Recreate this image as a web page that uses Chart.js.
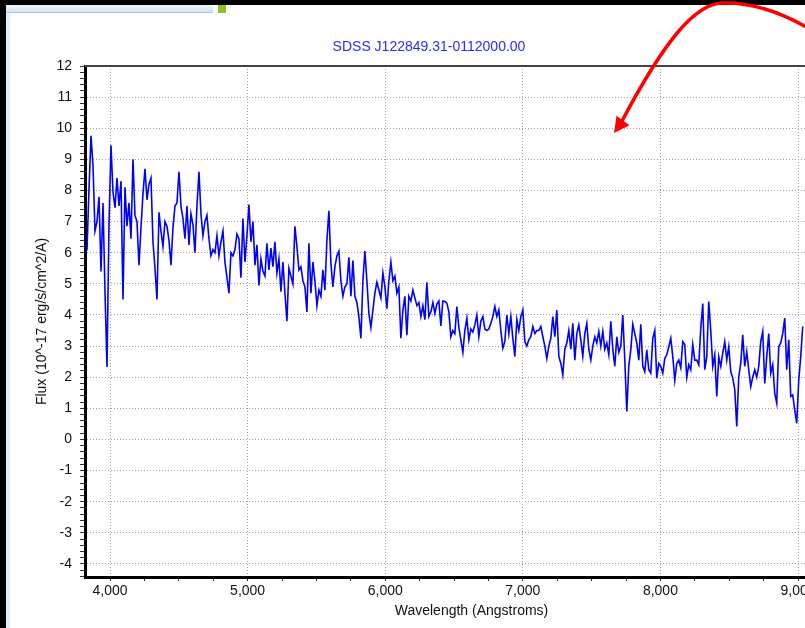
<!DOCTYPE html>
<html>
<head>
<meta charset="utf-8">
<script src="https://cdn.jsdelivr.net/npm/chart.js@4.4.1/dist/chart.umd.min.js"></script>
<style>
  html, body { margin: 0; padding: 0; background: #fff; }
  #frame { position: relative; width: 805px; height: 628px; overflow: hidden; background: #fff; }
  #plot { position: absolute; left: 0; top: 0; }
  .chrome { position: absolute; }
</style>
</head>
<body>
<div id="frame">
  <canvas id="plot" width="858" height="628"></canvas>
  <!-- window chrome around the screenshot -->
  <div class="chrome" style="left:0;top:0;width:805px;height:5px;background:#000"></div>
  <div class="chrome" style="left:0;top:0;width:6px;height:628px;background:#000"></div>
  <div class="chrome" style="left:6px;top:5px;width:4px;height:623px;background:#e2eefa"></div>
  <div class="chrome" style="left:6px;top:5px;width:207px;height:7px;background:linear-gradient(#eef5fc,#d3e5f6);border-bottom:1px solid #a9c6e4"></div>
  <div class="chrome" style="left:218px;top:5px;width:8px;height:8px;background:#8fc31f"></div>
  <svg class="chrome" style="left:0;top:0" width="805" height="628" viewBox="0 0 805 628">
    <path d="M 808 28 C 780 12, 750 2, 722 3 C 695 4, 665 40, 622 121" stroke="#ff0000" stroke-width="3.5" fill="none"/>
    <polygon points="614,133 616.5,115.8 629.5,125.2" fill="#ff0000"/>
  </svg>
</div>
<script>
const titleText = 'SDSS J122849.31-0112000.00';
const xTitle = 'Wavelength (Angstroms)';
const yTitle = 'Flux (10^-17 erg/s/cm^2/A)';

// axis ranges (Angstroms / flux units)
const xMin = 3818, xMax = 9436;
const yMin = -4.42, yMax = 12;

// spectrum sampled on a regular wavelength grid
const waveStart = 3818, waveStep = 14.53;

// flux, ~3818-5126 A
const fluxA = [6.0, 6.1, 8.05, 9.76, 8.8, 6.7, 7.0, 7.8, 5.4, 7.6,
  4.75, 2.33, 6.9, 9.45, 7.95, 7.45, 8.4, 7.5, 8.3, 4.5,
  8.1, 6.85, 7.6, 6.45, 9.0, 7.2, 7.0, 5.6, 6.8, 7.9,
  8.7, 7.7, 8.2, 8.4, 6.35, 5.5, 4.5, 7.3, 6.7, 6.2,
  7.0, 6.85, 6.4, 5.6, 6.8, 7.5, 7.6, 8.6, 7.5, 7.1,
  6.45, 7.5, 6.25, 7.25, 6.9, 6.0, 7.5, 8.6, 7.25, 6.55,
  7.0, 7.2, 6.45, 5.9, 6.1, 6.0, 6.55, 5.9, 6.35, 6.7,
  5.7, 5.2, 4.7, 6.0, 5.9, 6.1, 6.6, 6.45, 5.2, 7.1,
  5.7, 6.55, 7.55, 6.35, 7.0, 5.6, 6.25, 4.95, 5.8, 5.4];
// ~5126-6434 A
const fluxB = [5.25, 6.3, 5.45, 6.15, 5.55, 6.35, 5.35, 5.8, 4.75, 5.7,
  4.7, 3.8, 5.5, 5.25, 5.0, 6.85, 6.2, 5.45, 5.55, 5.1,
  4.9, 4.1, 6.3, 4.7, 5.7, 5.1, 4.3, 4.8, 4.6, 5.45,
  4.8, 6.4, 7.35, 5.65, 4.9, 5.55, 5.9, 6.05, 5.1, 4.6,
  4.9, 5.0, 5.85, 4.6, 5.75, 4.6, 4.4, 3.95, 3.25, 5.1,
  6.05, 5.1, 4.05, 3.6, 4.15, 4.7, 5.05, 4.8, 4.55, 5.35,
  4.9, 4.2, 5.1, 5.7, 5.1, 5.25, 4.7, 4.9, 3.25, 4.15,
  4.6, 3.35, 4.6, 4.45, 4.8, 4.55, 4.3, 4.4, 3.95, 4.3,
  3.85, 5.05, 3.95, 4.1, 4.4, 4.05, 4.35, 4.45, 3.65, 4.45];
// ~6434-7742 A
const fluxC = [4.43, 4.38, 4.1, 3.3, 3.5, 3.4, 4.27, 3.6, 3.2, 2.8,
  3.5, 3.9, 3.2, 3.55, 3.45, 3.68, 4.0, 3.3, 3.8, 3.95,
  3.55, 3.5, 3.55, 3.73, 3.95, 4.27, 3.95, 4.16, 3.5, 2.93,
  3.15, 4.0, 3.4, 3.95, 3.25, 2.67, 3.85, 3.5, 3.95, 4.16,
  3.15, 3.0, 3.2, 3.3, 3.63, 3.4, 3.5, 3.5, 3.63, 3.3,
  3.0, 2.6, 3.0, 3.25, 3.95, 3.3, 4.16, 2.67, 2.45, 2.07,
  2.9, 3.1, 3.5, 2.9, 3.73, 2.55, 3.4, 3.68, 3.2, 2.67,
  3.4, 3.73, 2.9, 2.55, 3.0, 3.3, 3.1, 3.47, 3.0, 3.47,
  2.9, 3.1, 2.72, 3.8, 2.9, 2.35, 3.3, 2.8, 3.0, 4.0];
// ~7742-9050 A
const fluxD = [2.55, 0.9, 2.35, 2.88, 3.7, 3.4, 3.1, 2.55, 3.7, 2.35,
  2.18, 2.88, 2.24, 2.13, 3.25, 3.5, 1.97, 2.45, 2.35, 2.13,
  2.6, 2.72, 2.98, 3.25, 2.66, 1.9, 2.45, 2.55, 2.3, 3.14,
  3.05, 2.0, 2.4, 2.24, 3.05, 2.55, 2.55, 2.4, 3.57, 4.37,
  2.24, 2.66, 4.43, 3.5, 2.35, 2.72, 1.38, 2.66, 2.35, 2.77,
  3.14, 2.55, 2.98, 2.18, 1.97, 1.6, 0.42, 2.0, 2.45, 3.36,
  2.35, 2.82, 2.24, 1.7, 2.0, 2.24, 2.0, 2.35, 3.14, 3.47,
  1.8, 2.66, 3.4, 2.13, 2.4, 1.49, 1.17, 2.98, 3.1, 3.4,
  3.9, 2.24, 3.2, 1.38, 1.43, 0.95, 0.52, 1.9, 2.66, 3.63];

const flux = [...fluxA, ...fluxB, ...fluxC, ...fluxD];
const wavelength = flux.map((_, i) => waveStart + i * waveStep);

Chart.defaults.font.family = '"Liberation Sans", Arial, sans-serif';

// thin dark line closing the top of the plot box
const frameTop = {
  id: 'frameTop',
  afterDraw(chart) {
    const { ctx, chartArea: a } = chart;
    ctx.save();
    ctx.strokeStyle = '#444';
    ctx.lineWidth = 2;
    ctx.beginPath();
    ctx.moveTo(a.left, a.top);
    ctx.lineTo(a.right, a.top);
    ctx.stroke();
    ctx.restore();
  }
};

const isWhole = (v) => Math.abs(v - Math.round(v)) < 1e-6;

new Chart(document.getElementById('plot'), {
  type: 'line',
  data: {
    datasets: [{
      data: wavelength.map((w, i) => ({ x: w, y: flux[i] })),
      borderColor: '#0000ff', borderWidth: 1.6,
      pointRadius: 0, tension: 0, fill: false
    }]
  },
  options: {
    responsive: false, animation: false,
    layout: { padding: 0 },
    plugins: {
      legend: { display: false },
      tooltip: { enabled: false },
      title: {
        display: true, text: titleText, color: '#2b2bff',
        font: { size: 14, weight: 'normal' },
        padding: { top: 38.6, bottom: 10.6 }
      }
    },
    scales: {
      x: {
        type: 'linear', min: xMin, max: xMax,
        afterFit: (s) => { s.height = 51; },
        border: { color: '#000', width: 3, dash: [1, 2] },
        grid: {
          color: (c) => c.tick && c.tick.value % 1000 === 0 ? '#a0a0a0' : 'transparent',
          tickColor: '#333', tickLength: 4, lineWidth: 1
        },
        ticks: {
          stepSize: 250, includeBounds: false, autoSkip: false, maxRotation: 0,
          padding: 2, color: '#111', font: { size: 14 },
          callback: (v) => v % 1000 === 0 ? v.toLocaleString('en-US') : ''
        },
        title: {
          display: true, text: xTitle, color: '#111',
          font: { size: 14 }, padding: { top: 0, bottom: 8.6 }
        }
      },
      y: {
        min: yMin, max: yMax,
        afterFit: (s) => { s.width = 85; },
        border: { color: '#000', width: 3, dash: [1, 2] },
        grid: {
          color: (c) => c.tick && isWhole(c.tick.value) ? '#a0a0a0' : 'transparent',
          tickColor: '#333', tickLength: 5, lineWidth: 1
        },
        ticks: {
          stepSize: 0.2, includeBounds: false, autoSkip: false,
          padding: 8, color: '#111', font: { size: 14 },
          callback: (v) => isWhole(v) ? String(Math.round(v)) : ''
        },
        title: {
          display: true, text: yTitle, color: '#111',
          font: { size: 14 }, padding: { top: 33.6, bottom: 0 }
        }
      }
    }
  },
  plugins: [frameTop]
});
</script>
</body>
</html>
